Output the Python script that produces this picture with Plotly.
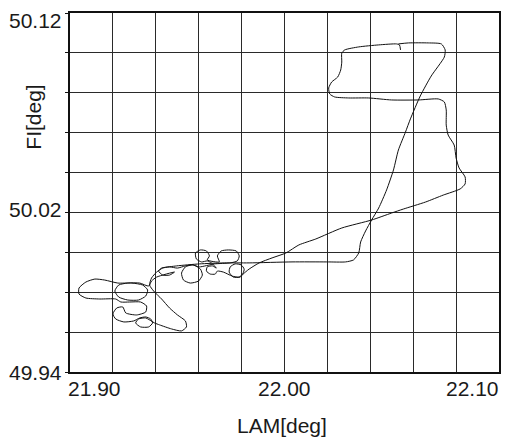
import plotly.graph_objects as go

# Track coordinates (degrees)
lam = [
    22.0541, 22.0536, 22.0522, 22.0439, 22.0346, 22.0281, 22.0267, 22.0267, 22.0262, 22.0248,
    22.0220, 22.0206, 22.0211, 22.0234, 22.0299, 22.0392, 22.0499, 22.0624, 22.0717, 22.0745,
    22.0754, 22.0754, 22.0763, 22.0791, 22.0800, 22.0814, 22.0842, 22.0842, 22.0819, 22.0740,
    22.0657, 22.0554, 22.0499, 22.0406, 22.0267, 22.0146, 22.0067, 22.0007, 21.9942, 21.9882,
    21.9835, 21.9807,
    21.9793, 21.9761, 21.9742, 21.9747, 21.9770, 21.9798, 21.9812, 21.9807, 21.9789, 21.9756, 21.9715,
    21.9687, 21.9677, 21.9654, 21.9636, 21.9640, 21.9664, 21.9682, 21.9659,
    21.9640, 21.9613, 21.9589, 21.9585, 21.9608, 21.9636, 21.9650, 21.9640,
    21.9696, 21.9687, 21.9705, 21.9738, 21.9775, 21.9789, 21.9780, 21.9747, 21.9673,
    21.9603, 21.9571, 21.9538, 21.9520, 21.9529, 21.9561, 21.9599, 21.9617, 21.9608, 21.9575, 21.9538, 21.9501,
    21.9464, 21.9427, 21.9413, 21.9432, 21.9464, 21.9487, 21.9404, 21.9380,
    21.9367, 21.9325, 21.9269, 21.9227, 21.9209, 21.9227, 21.9269, 21.9320, 21.9353, 21.9362, 21.9339, 21.9288, 21.9223,
    21.9162, 21.9116, 21.9074, 21.9042, 21.9042, 21.9074, 21.9139, 21.9213,
    21.9237, 21.9278, 21.9329, 21.9357, 21.9353, 21.9311, 21.9260, 21.9246,
    21.9218, 21.9200, 21.9213, 21.9251, 21.9297, 21.9325,
    21.9353, 21.9376, 21.9385, 21.9367, 21.9329, 21.9306, 21.9320, 21.9353,
    21.9394, 21.9418, 21.9473, 21.9520, 21.9543, 21.9538, 21.9501, 21.9464, 21.9427, 21.9390,
    21.9371, 21.9380, 21.9404, 21.9432,
    21.9497, 21.9603, 21.9719, 21.9835, 22.0035, 22.0197, 22.0285, 22.0322, 22.0346, 22.0355,
    22.0378, 22.0406, 22.0439, 22.0476, 22.0508, 22.0531, 22.0564, 22.0587, 22.0633, 22.0684,
    22.0745, 22.0749, 22.0731, 22.0670, 22.0578, 22.0531,
]
fi = [
    50.1015, 50.1040, 50.1045, 50.1040, 50.1030, 50.1015, 50.0999, 50.0954, 50.0914, 50.0879,
    50.0854, 50.0824, 50.0794, 50.0779, 50.0774, 50.0774, 50.0764, 50.0764, 50.0769, 50.0754,
    50.0714, 50.0638, 50.0588, 50.0538, 50.0473, 50.0423, 50.0378, 50.0343, 50.0318, 50.0287,
    50.0252, 50.0217, 50.0197, 50.0162, 50.0122, 50.0067, 50.0037, 49.9997, 49.9972, 49.9947,
    49.9916, 49.9891,
    49.9876, 49.9876, 49.9901, 49.9927, 49.9942, 49.9937, 49.9916, 49.9896, 49.9876, 49.9881, 49.9901,
    49.9906, 49.9891, 49.9891, 49.9906, 49.9927, 49.9932, 49.9921, 49.9947,
    49.9957, 49.9952, 49.9967, 49.9997, 50.0012, 50.0007, 49.9982, 49.9962,
    49.9952, 49.9982, 50.0007, 50.0012, 50.0007, 49.9982, 49.9957, 49.9947, 49.9942,
    49.9927, 49.9937, 49.9927, 49.9896, 49.9861, 49.9846, 49.9856, 49.9886, 49.9916, 49.9937, 49.9932, 49.9921,
    49.9927, 49.9921, 49.9906, 49.9886, 49.9886, 49.9901, 49.9876, 49.9856,
    49.9831, 49.9846, 49.9846, 49.9836, 49.9806, 49.9776, 49.9761, 49.9761, 49.9781, 49.9811, 49.9836, 49.9846, 49.9846,
    49.9861, 49.9866, 49.9851, 49.9821, 49.9791, 49.9771, 49.9766, 49.9766,
    49.9751, 49.9751, 49.9751, 49.9731, 49.9701, 49.9686, 49.9696, 49.9726,
    49.9721, 49.9691, 49.9666, 49.9651, 49.9656, 49.9671,
    49.9676, 49.9666, 49.9646, 49.9626, 49.9626, 49.9646, 49.9666, 49.9671,
    49.9646, 49.9636, 49.9616, 49.9606, 49.9626, 49.9656, 49.9686, 49.9721, 49.9766, 49.9806,
    49.9836, 49.9871, 49.9901, 49.9921,
    49.9932, 49.9942, 49.9947, 49.9947, 49.9952, 49.9952, 49.9952, 49.9962, 49.9997, 50.0052,
    50.0107, 50.0162, 50.0222, 50.0313, 50.0413, 50.0513, 50.0603, 50.0669, 50.0784, 50.0884,
    50.0979, 50.1015, 50.1045, 50.1050, 50.1050, 50.1045,
]

x_range = [21.90, 22.10]
y_range = [49.94, 50.12]
x_tick_vals = [21.90, 22.00, 22.10]
x_tick_text = ["21.90", "22.00", "22.10"]
y_tick_vals = [50.12, 50.02, 49.94]
y_tick_text = ["50.12", "50.02", "49.94"]
x_title = "LAM[deg]"
y_title = "FI[deg]"

FONT = "Liberation Sans, Arial, sans-serif"
TXT = "#1a1a1a"
FS = 21

fig = go.Figure()
fig.add_trace(go.Scatter(
    x=lam, y=fi, mode="lines",
    line=dict(color="#111111", width=1, shape="spline", smoothing=0.6),
    hoverinfo="skip", showlegend=False,
))

axis_common = dict(
    showgrid=True, gridcolor="#2a2a2a", gridwidth=1,
    showline=True, linecolor="#111111", linewidth=1.6, mirror=True,
    showticklabels=False, zeroline=False, dtick=0.02,
)
fig.update_xaxes(range=x_range, tick0=x_range[0], ticks="", **axis_common)
fig.update_yaxes(range=y_range, tick0=y_range[0], ticks="outside", ticklen=3,
                 tickcolor="#111111", tickwidth=1, **axis_common)

ann = []
x_anchor = ["left", "center", "right"]
x_shift = [-4, 0, 2]
for v, t, a, s in zip(x_tick_vals, x_tick_text, x_anchor, x_shift):
    ann.append(dict(x=v, y=0, xref="x", yref="paper", text=t, showarrow=False,
                    xanchor=a, yanchor="top", xshift=s, yshift=-3,
                    font=dict(family=FONT, size=FS, color=TXT)))
y_anchor = ["top", "middle", "middle"]
y_shift = [6, 3, 0]
for v, t, a, s in zip(y_tick_vals, y_tick_text, y_anchor, y_shift):
    ann.append(dict(x=0, y=v, xref="paper", yref="y", text=t, showarrow=False,
                    xanchor="right", yanchor=a, xshift=-6, yshift=s,
                    font=dict(family=FONT, size=FS, color=TXT)))
ann.append(dict(x=0.494, y=-0.15, xref="paper", yref="paper", text=x_title,
                showarrow=False, xanchor="center", yanchor="middle",
                font=dict(family=FONT, size=FS, color=TXT)))
ann.append(dict(x=-0.0858, y=0.709, xref="paper", yref="paper", text=y_title,
                showarrow=False, xanchor="center", yanchor="middle", textangle=-90,
                font=dict(family=FONT, size=FS, color=TXT)))

fig.update_layout(
    width=508, height=437,
    margin=dict(l=70, r=7, t=13, b=65),
    paper_bgcolor="white", plot_bgcolor="white",
    annotations=ann,
)

fig.write_html("out.html", config={"displayModeBar": False, "staticPlot": True},
               post_script="document.body.style.margin='0';document.body.style.padding='0';")
